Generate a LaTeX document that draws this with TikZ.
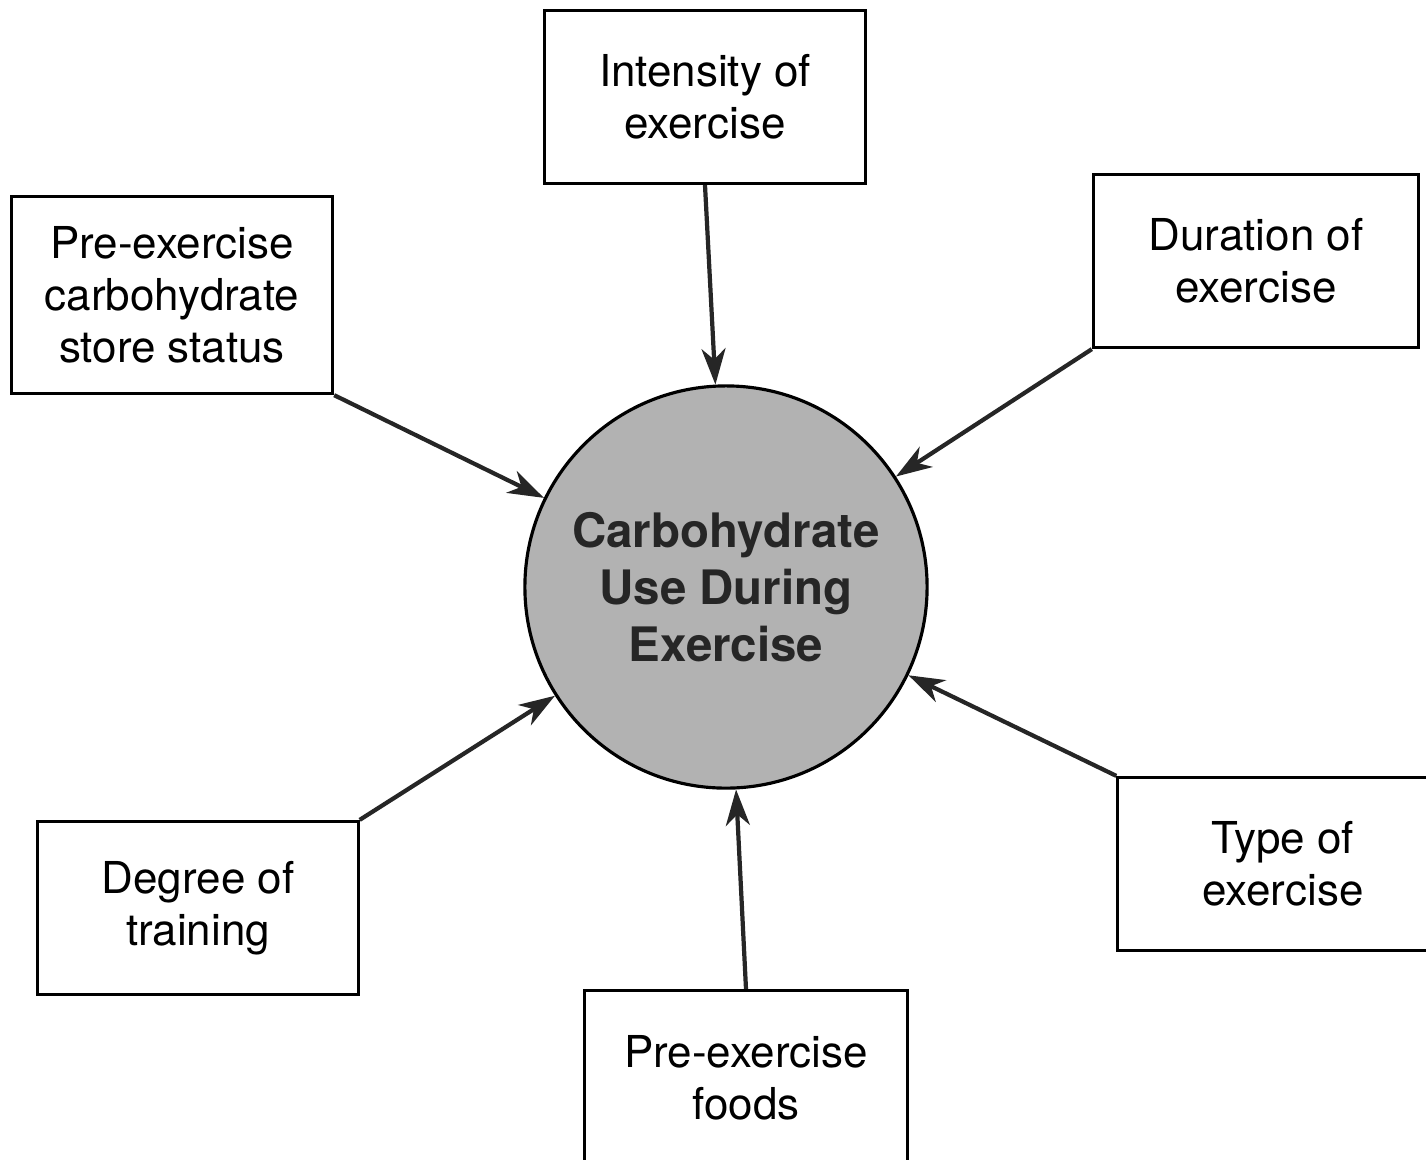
\documentclass[tikz,border=0pt]{standalone}
\usepackage{fontspec}
\setmainfont{TeX Gyre Heros}
\usetikzlibrary{arrows.meta}

\tikzset{
	factor/.style={draw, line width=0.9pt, fill=white, minimum width=3.2cm, minimum height=1.73cm, align=center, font=\fontsize{12.5}{14.8}\selectfont},
	hub/.style={circle, draw, line width=0.9pt, fill=black!30, minimum size=4.02cm, align=center, font=\fontsize{13.5}{16.3}\selectfont\bfseries, text=black!85},
	arr/.style={line width=1.2pt, draw=black!85, -{Stealth[length=3.6mm, width=2.4mm, inset=1.1mm]}}
}

\begin{document}
\begin{tikzpicture}[x=0.01cm, y=-0.01cm]
	\useasboundingbox (0,0) rectangle (1426,1159);
	\clip (0,0) rectangle (1426,1159);
	\node [hub] (use) at (726,587) {Carbohydrate\\Use During\\Exercise};
	\node [factor] (intens) at (705,97) {Intensity of\\exercise};
	\node [factor, minimum width=3.25cm] (dur) at (1256,261) {Duration of\\exercise};
	\node [factor, minimum width=3.21cm, minimum height=1.97cm] (store) at (172,295) {Pre-exercise\\carbohydrate\\store status};
	\node [factor] (train) at (198,908) {Degree of\\training};
	\node [factor, minimum width=3.23cm, minimum height=1.75cm] (foods) at (746,1078) {Pre-exercise\\foods};
	\node [factor, minimum width=3.3cm] (type) at (1283,864) {Type of\\exercise};
	\draw [arr] (intens.south) -- (use);
	\draw [arr] (dur.south west) -- (use);
	\draw [arr] (store.south east) -- (use);
	\draw [arr] (train.north east) -- (use);
	\draw [arr] (foods.north) -- (use);
	\draw [arr] (type.north west) -- (use);
\end{tikzpicture}
\end{document}
